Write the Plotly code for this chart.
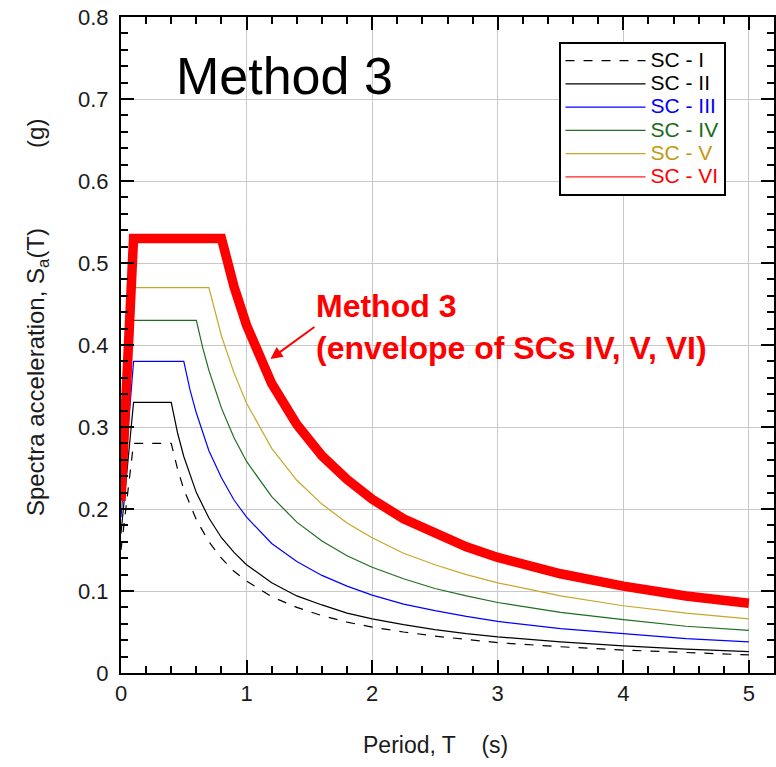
import plotly.graph_objects as go

# ---------------- data ----------------
T_I = [0, 0.1, 0.4, 0.45, 0.5, 0.6, 0.7, 0.8, 0.9, 1.0, 1.2, 1.4, 1.6, 1.8, 2.0, 2.25, 2.5, 2.75, 3.0, 3.5, 4.0, 4.5, 5.0]
SA_I = [0.15, 0.28, 0.28, 0.249, 0.224, 0.187, 0.160, 0.140, 0.124, 0.112, 0.093, 0.080, 0.070, 0.062, 0.056, 0.050, 0.045, 0.041, 0.037, 0.032, 0.028, 0.025, 0.022]

T_II = [0, 0.1, 0.4, 0.45, 0.5, 0.6, 0.7, 0.8, 0.9, 1.0, 1.2, 1.4, 1.6, 1.8, 2.0, 2.25, 2.5, 2.75, 3.0, 3.5, 4.0, 4.5, 5.0]
SA_II = [0.17, 0.33, 0.33, 0.293, 0.264, 0.220, 0.189, 0.165, 0.147, 0.132, 0.110, 0.094, 0.083, 0.073, 0.066, 0.059, 0.053, 0.048, 0.044, 0.038, 0.033, 0.029, 0.026]

T_III = [0, 0.1, 0.5, 0.55, 0.6, 0.7, 0.8, 0.9, 1.0, 1.2, 1.4, 1.6, 1.8, 2.0, 2.25, 2.5, 2.75, 3.0, 3.5, 4.0, 4.5, 5.0]
SA_III = [0.19, 0.38, 0.38, 0.345, 0.317, 0.271, 0.238, 0.211, 0.190, 0.158, 0.136, 0.119, 0.106, 0.095, 0.084, 0.076, 0.069, 0.063, 0.054, 0.048, 0.042, 0.038]

T_IV = [0, 0.1, 0.6, 0.65, 0.7, 0.8, 0.9, 1.0, 1.2, 1.4, 1.6, 1.8, 2.0, 2.25, 2.5, 2.75, 3.0, 3.5, 4.0, 4.5, 5.0]
SA_IV = [0.20, 0.43, 0.43, 0.397, 0.369, 0.323, 0.287, 0.258, 0.215, 0.184, 0.161, 0.143, 0.129, 0.115, 0.103, 0.094, 0.086, 0.074, 0.065, 0.057, 0.052]

T_V = [0, 0.1, 0.7, 0.75, 0.8, 0.9, 1.0, 1.2, 1.4, 1.6, 1.8, 2.0, 2.25, 2.5, 2.75, 3.0, 3.5, 4.0, 4.5, 5.0]
SA_V = [0.20, 0.47, 0.47, 0.439, 0.411, 0.366, 0.329, 0.274, 0.235, 0.206, 0.183, 0.165, 0.146, 0.132, 0.120, 0.110, 0.094, 0.082, 0.073, 0.066]

T_VI = [0, 0.1, 0.8, 0.85, 0.9, 1.0, 1.1, 1.2, 1.4, 1.6, 1.8, 2.0, 2.25, 2.5, 2.75, 3.0, 3.5, 4.0, 4.5, 5.0]
SA_VI = [0.21, 0.53, 0.53, 0.499, 0.471, 0.424, 0.385, 0.353, 0.303, 0.265, 0.236, 0.212, 0.188, 0.170, 0.154, 0.141, 0.121, 0.106, 0.094, 0.085]

# Method 3 envelope of SCs IV, V, VI
T_ENV = T_VI
SA_ENV = SA_VI

NAMES = ["SC - I", "SC - II", "SC - III", "SC - IV", "SC - V", "SC - VI"]
X_TICKS = [0, 1, 2, 3, 4, 5]
X_RANGE = [0, 5.2]
Y_RANGE = [0, 0.8]

# ---------------- styling ----------------
FONT = "Arial"
LINE_COLORS = ["#000000", "#000000", "#0000ff", "#1e6e1e", "#c8a62a", "#ff2020"]
TEXT_COLORS = ["#000000", "#000000", "#0000ff", "#1a6a1a", "#c09a10", "#ff0000"]
DASHES = ["dash", "solid", "solid", "solid", "solid", "solid"]

series = [(T_I, SA_I), (T_II, SA_II), (T_III, SA_III), (T_IV, SA_IV), (T_V, SA_V), (T_VI, SA_VI)]

fig = go.Figure()
for (t, s), name, lc, tc, dash in zip(series, NAMES, LINE_COLORS, TEXT_COLORS, DASHES):
    fig.add_trace(go.Scatter(
        x=t, y=s, mode="lines",
        name=f"<span style='color:{tc};font-size:21px'>{name}</span>",
        line=dict(color=lc, width=1.2, dash=dash),
    ))

fig.add_trace(go.Scatter(
    x=T_ENV, y=SA_ENV, mode="lines", showlegend=False,
    line=dict(color="#ff0000", width=9.5),
))

tick_common = dict(ticks="inside", ticklen=13, tickwidth=1.5, tickcolor="black",
                   showline=True, linecolor="black", linewidth=2, mirror="allticks")

fig.update_layout(
    width=776, height=767,
    margin=dict(l=121, r=2, t=17, b=94, autoexpand=False),
    plot_bgcolor="white",
    showlegend=True,
    legend=dict(
        x=0.67, y=0.962, xanchor="left", yanchor="top",
        bordercolor="black", borderwidth=2, bgcolor="white",
        font=dict(family=FONT, size=15.6, color="black"),
        itemwidth=80, tracegroupgap=0,
    ),
    xaxis=dict(
        range=X_RANGE, tickmode="array", tickvals=X_TICKS,
        minor=dict(dtick=0.2, ticks="inside", ticklen=7, tickcolor="black", showgrid=False),
        showgrid=True, gridcolor="#c8c8c8",
        tickfont=dict(size=22, family=FONT, color="#1a1a1a"),
        **tick_common,
    ),
    yaxis=dict(
        range=Y_RANGE, dtick=0.1, tick0=0,
        minor=dict(dtick=0.02, ticks="inside", ticklen=7, tickcolor="black", showgrid=False),
        showgrid=True, gridcolor="#c8c8c8",
        tickfont=dict(size=22, family=FONT, color="#1a1a1a"),
        ticksuffix="\u00a0",
        **tick_common,
    ),
)

# axis titles as annotations
fig.add_annotation(
    xref="paper", yref="paper", x=0.4816, y=0, yshift=-72,
    text="Period, T&nbsp;&nbsp;&nbsp;&nbsp;(s)", showarrow=False,
    font=dict(family=FONT, size=23, color="#1a1a1a"), xanchor="center", yanchor="middle",
)
fig.add_annotation(
    xref="paper", yref="paper", x=0, xshift=-84, y=0.541,
    text="Spectra acceleration, S<sub>a</sub>(T)" + "&nbsp;" * 12 + "(g)", showarrow=False,
    textangle=-90, font=dict(family=FONT, size=24, color="#1a1a1a"), xanchor="center", yanchor="middle",
)

# panel title
fig.add_annotation(
    xref="paper", yref="paper", x=0.251, y=0.91, xanchor="center", yanchor="middle",
    text="Method 3", showarrow=False, font=dict(family=FONT, size=52, color="black"),
)

# Method 3 label with its arrow (single annotation, text at the arrow tail)
fig.add_annotation(
    x=1.19, y=0.383, xref="x", yref="y",
    ax=1.54, ay=0.422, axref="x", ayref="y",
    xanchor="left", yanchor="middle", align="left",
    text="<b>Method 3<br>(envelope of SCs IV, V, VI)</b>",
    showarrow=True, arrowhead=2, arrowsize=1.2, arrowwidth=2, arrowcolor="#ff0000",
    font=dict(family=FONT, size=32, color="#ff0000"),
)

fig.write_html("out.html", post_script="document.body.style.margin='0px';",
               config={"displayModeBar": False})
